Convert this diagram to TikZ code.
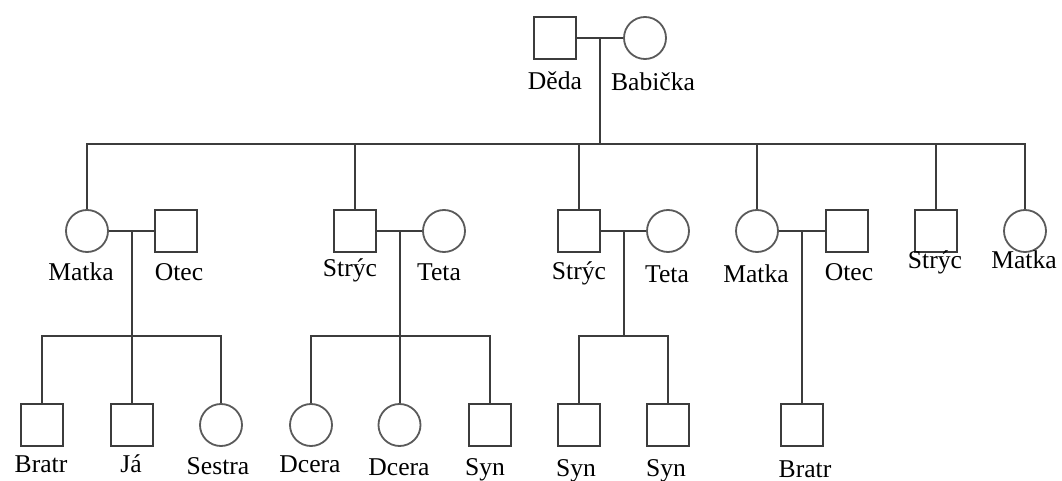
\documentclass[tikz,border=0pt]{standalone}
\usepackage{fontspec}
\setmainfont{Liberation Serif}
\usetikzlibrary{calc}
\definecolor{kin}{HTML}{3C3C3C}
\definecolor{kinw}{HTML}{5A5A5A}
\def\kline{\draw[kin,line width=1pt]}
\tikzset{
  man/.style={draw=kin,line width=1pt,rectangle,minimum size=21pt,inner sep=0pt},
  woman/.style={draw=kinw,line width=0.9pt,circle,minimum size=21pt,inner sep=0pt},
  lbl/.style={anchor=base,inner sep=0pt,font=\fontsize{12.8}{15}\selectfont}
}

\begin{document}
\begin{tikzpicture}[x=0.5pt,y=-0.5pt]
                \useasboundingbox (0,0) rectangle (1062,481);
                % generation 1
                \node[man]   (deda)    at (555,38) {};
                \node[woman] (babicka) at (645,38) {};
                \node[lbl] (tdeda)    at (555,90) {Děda};
                \node[lbl] (tbabicka) at (653,91) {Babička};
                % generation 2
                \node[woman] (matka1) at (87,231)   {};
                \node[man]   (otec1)  at (176,231)  {};
                \node[man]   (stryc1) at (355,231)  {};
                \node[woman] (teta1)  at (444,231)  {};
                \node[man]   (stryc2) at (579,231)  {};
                \node[woman] (teta2)  at (668,231)  {};
                \node[woman] (matka4) at (757,231)  {};
                \node[man]   (otec4)  at (847,231)  {};
                \node[man]   (stryc3) at (936,231)  {};
                \node[woman] (matka5) at (1025,231) {};
                \node[lbl] (tmatka1) at (81,281)   {Matka};
                \node[lbl] (totec1)  at (179,281)  {Otec};
                \node[lbl] (tstryc1) at (350,277)  {Strýc};
                \node[lbl] (tteta1)  at (439,281)  {Teta};
                \node[lbl] (tstryc2) at (579,279)  {Strýc};
                \node[lbl] (tteta2)  at (667,283)  {Teta};
                \node[lbl] (tmatka4) at (756,283)  {Matka};
                \node[lbl] (totec4)  at (849,281)  {Otec};
                \node[lbl] (tstryc3) at (935,269)  {Strýc};
                \node[lbl] (tmatka5) at (1024,269) {Matka};
                % generation 3
                \node[man]   (bratr1) at (42,425)    {};
                \node[man]   (ja)     at (131.5,425) {};
                \node[woman] (sestra) at (221,425)   {};
                \node[woman] (dcera1) at (311,425)   {};
                \node[woman] (dcera2) at (399.5,425) {};
                \node[man]   (syn1)   at (490,425)   {};
                \node[man]   (syn2)   at (579,425)   {};
                \node[man]   (syn3)   at (668,425)   {};
                \node[man]   (bratr2) at (802,425)   {};
                \node[lbl] (tbratr1) at (41,472)  {Bratr};
                \node[lbl] (tja)     at (131,473) {Já};
                \node[lbl] (tsestra) at (218,474) {Sestra};
                \node[lbl] (tdcera1) at (310,473) {Dcera};
                \node[lbl] (tdcera2) at (399,475) {Dcera};
                \node[lbl] (tsyn1)   at (485,475) {Syn};
                \node[lbl] (tsyn2)   at (576,476) {Syn};
                \node[lbl] (tsyn3)   at (666,476) {Syn};
                \node[lbl] (tbratr2) at (805,477) {Bratr};
                % couples
                \coordinate (c0) at ($(deda)!0.5!(babicka)$);
                \coordinate (c1) at ($(matka1)!0.5!(otec1)$);
                \coordinate (c2) at ($(stryc1)!0.5!(teta1)$);
                \coordinate (c3) at ($(stryc2)!0.5!(teta2)$);
                \coordinate (c4) at ($(matka4)!0.5!(otec4)$);
                \coordinate (bar0) at (600,144);
                \coordinate (bar1) at (0,336);
                \kline (deda) -- (babicka);
                \kline (matka1) -- (otec1);
                \kline (stryc1) -- (teta1);
                \kline (stryc2) -- (teta2);
                \kline (matka4) -- (otec4);
                % children of Děda and Babička
                \kline (c0) -- (c0 |- bar0);
                \kline (matka1.north) -- (matka1.north |- bar0) -- (matka5.north |- bar0) -- (matka5.north);
                \foreach \k in {stryc1,stryc2,matka4,stryc3}
                    \kline (\k.north) -- (\k.north |- bar0);
                % grandchildren
                \kline (c1) -- (ja);
                \kline (bratr1.north) -- (bratr1.north |- bar1) -- (sestra.north |- bar1) -- (sestra.north);
                \kline (c2) -- (dcera2);
                \kline (dcera1.north) -- (dcera1.north |- bar1) -- (syn1.north |- bar1) -- (syn1.north);
                \kline (c3) -- (c3 |- bar1);
                \kline (syn2.north) -- (syn2.north |- bar1) -- (syn3.north |- bar1) -- (syn3.north);
                \kline (c4) -- (bratr2);
            \end{tikzpicture}
\end{document}
